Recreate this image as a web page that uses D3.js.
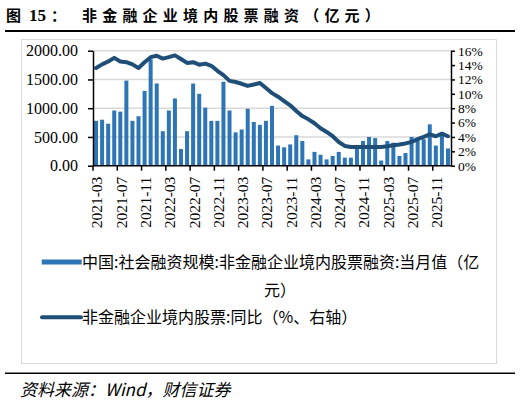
<!DOCTYPE html>
<html>
<head>
<meta charset="utf-8">
<script src="https://cdn.jsdelivr.net/npm/d3@7"></script>
<style>
  html, body { margin: 0; padding: 0; background: #fff; }
  svg { display: block; }
</style>
</head>
<body>
<svg id="chart" width="520" height="405"></svg>
<script>
// ---------------------------------------------------------------------------
// Data
// ---------------------------------------------------------------------------
const firstMonth = new Date(2021, 2, 1);   // 2021-03
const lastMonth = new Date(2026, 0, 1);    // 2026-01
const months = d3.timeMonth.range(firstMonth, d3.timeMonth.offset(lastMonth, 1))
  .map(d3.timeFormat("%Y-%m"));

// 当月值（亿元）
const monthlyValues = [
  780, 800, 730, 960, 940, 1480, 780, 860, 1300, 1850,
  1430, 600, 960, 1170, 290, 600, 1430, 1250, 1010, 780,
  780, 1460, 960, 580, 630, 990, 760, 710, 780, 1040,
  350, 320, 370, 530, 430, 110, 240, 190, 110, 170,
  240, 140, 140, 290, 430, 500, 480, 90, 430, 400,
  170, 220, 500, 440, 460, 720, 350, 580, 300
];

// 同比（%，右轴）
const yoyValues = [
  13.6, 14.1, 14.5, 15.0, 14.5, 14.4, 14.1, 13.6, 14.4, 15.1,
  15.3, 14.9, 15.1, 15.35, 14.85, 14.3, 14.4, 14.05, 14.2, 13.9,
  13.2, 12.6, 11.8, 11.65, 11.4, 11.1, 11.3, 11.5, 10.8, 10.1,
  9.6, 9.0, 8.4, 7.6, 6.9, 6.45, 5.9, 5.2, 4.7, 4.1,
  3.3, 2.75, 2.6, 2.6, 2.6, 2.6, 2.6, 2.6, 2.7, 2.85,
  2.95, 3.1, 3.3, 3.7, 4.0, 4.35, 4.1, 4.45, 4.1
];

const xTickLabels = [
  "2021-03", "2021-07", "2021-11", "2022-03", "2022-07", "2022-11",
  "2023-03", "2023-07", "2023-11", "2024-03", "2024-07", "2024-11",
  "2025-03", "2025-07", "2025-11"
];
const leftTicks = [0, 500, 1000, 1500, 2000];
const rightTicks = [0, 2, 4, 6, 8, 10, 12, 14, 16];

const titleParts = ["图", "15", "：", "非金融企业境内股票融资（亿元）"];
const barLegend = ["中国:社会融资规模:非金融企业境内股票融资:当月值（亿", "元）"];
const lineLegend = "非金融企业境内股票:同比（%、右轴）";
const sourceText = "资料来源：Wind，财信证券";

const rows = months.map((m, i) => ({ month: m, value: monthlyValues[i], yoy: yoyValues[i] }));

// ---------------------------------------------------------------------------
// Setup
// ---------------------------------------------------------------------------
const svg = d3.select("#chart");
const barColor = "#2E75B6";
const lineColor = "#1F4E79";
const serif = "'Liberation Serif', 'Times New Roman', serif";
const cjk = "'Noto Sans CJK SC', 'Noto Sans', sans-serif";

const plot = { left: 93, right: 451, top: 50.7, bottom: 165.7 };

svg.append("rect").attr("width", 520).attr("height", 405).attr("fill", "#fff");

// title: "图 15：" then the spaced-out heading
const title = svg.append("text")
  .attr("y", 20.5)
  .attr("font-family", cjk)
  .attr("font-weight", "bold")
  .attr("font-size", 15)
  .attr("fill", "#000");
title.append("tspan").attr("x", 6).text(titleParts[0]);
title.append("tspan").attr("x", 29).attr("font-family", serif).attr("font-size", 17).text(titleParts[1]);
title.append("tspan").attr("x", 51).text(titleParts[2]);
title.append("tspan").attr("x", 82).attr("letter-spacing", 5.2).text(titleParts[3]);

svg.append("line")
  .attr("x1", 5).attr("x2", 515).attr("y1", 31).attr("y2", 31)
  .attr("stroke", "#000").attr("stroke-width", 2);

// chart frame
svg.append("rect")
  .attr("x", 21.5).attr("y", 39.5).attr("width", 475).attr("height", 324)
  .attr("fill", "#fff").attr("stroke", "#d9d9d9").attr("stroke-width", 1);

// ---------------------------------------------------------------------------
// Scales
// ---------------------------------------------------------------------------
const x = d3.scaleBand()
  .domain(months)
  .range([plot.left, plot.right])
  .paddingInner(0.34)
  .paddingOuter(0.17);

const yLeft = d3.scaleLinear().domain([0, 2000]).range([plot.bottom, plot.top]);
const yRight = d3.scaleLinear().domain([0, 16]).range([plot.bottom, plot.top]);

// gridlines
svg.append("g")
  .selectAll("line")
  .data(leftTicks.filter(d => d > 0))
  .join("line")
  .attr("x1", plot.left).attr("x2", plot.right)
  .attr("y1", d => yLeft(d)).attr("y2", d => yLeft(d))
  .attr("stroke", "#d9d9d9").attr("stroke-width", 1.5);

// bars
svg.append("g")
  .selectAll("rect")
  .data(rows)
  .join("rect")
  .attr("x", d => x(d.month))
  .attr("width", x.bandwidth())
  .attr("y", d => yLeft(d.value))
  .attr("height", d => yLeft(0) - yLeft(d.value))
  .attr("fill", barColor);

// yoy line
const line = d3.line()
  .x(d => x(d.month) + x.bandwidth() / 2)
  .y(d => yRight(d.yoy));

svg.append("path")
  .datum(rows)
  .attr("d", line)
  .attr("fill", "none")
  .attr("stroke", lineColor)
  .attr("stroke-width", 4)
  .attr("stroke-linejoin", "round")
  .attr("stroke-linecap", "round");

// ---------------------------------------------------------------------------
// Axes
// ---------------------------------------------------------------------------
const leftAxis = svg.append("g")
  .attr("transform", `translate(${plot.left},0)`)
  .call(d3.axisLeft(yLeft)
    .tickValues(leftTicks)
    .tickFormat(d3.format(".2f"))
    .tickSize(5)
    .tickSizeOuter(0)
    .tickPadding(10));

const rightAxis = svg.append("g")
  .attr("transform", `translate(${plot.right},0)`)
  .call(d3.axisRight(yRight)
    .tickValues(rightTicks)
    .tickFormat(d => d + "%")
    .tickSize(4)
    .tickSizeOuter(0)
    .tickPadding(3));

[leftAxis, rightAxis].forEach(g => {
  g.select(".domain").attr("stroke", "#000").attr("stroke-width", 1.5);
  g.selectAll(".tick line").attr("stroke", "#000").attr("stroke-width", 1.5);
  g.selectAll(".tick text")
    .attr("font-family", serif)
    .attr("font-size", 16)
    .attr("fill", "#000");
});
// right labels sit only 14px apart, keep them a touch smaller
rightAxis.selectAll(".tick text").attr("font-size", 13.5);

// bottom axis: ticks on category boundaries every 4 months
const xAxis = svg.append("g");
xAxis.append("line")
  .attr("x1", plot.left).attr("x2", plot.right)
  .attr("y1", plot.bottom).attr("y2", plot.bottom)
  .attr("stroke", "#000").attr("stroke-width", 1.5);

const tickX = m => x(m) - x.step() * x.paddingInner() / 2;

xAxis.selectAll(".xtick")
  .data(xTickLabels)
  .join("line")
  .attr("class", "xtick")
  .attr("x1", tickX).attr("x2", tickX)
  .attr("y1", plot.bottom).attr("y2", plot.bottom + 5)
  .attr("stroke", "#000").attr("stroke-width", 1.5);

xAxis.selectAll(".xlabel")
  .data(xTickLabels)
  .join("text")
  .attr("class", "xlabel")
  .attr("transform", d => `translate(${tickX(d) + 4},${plot.bottom + 11}) rotate(-90)`)
  .attr("text-anchor", "end")
  .attr("dy", "0.35em")
  .attr("font-family", serif)
  .attr("font-size", 15.5)
  .attr("fill", "#000")
  .text(d => d);

// ---------------------------------------------------------------------------
// Legend
// ---------------------------------------------------------------------------
const legend = svg.append("g");

legend.append("rect")
  .attr("x", 41.7).attr("y", 259.5).attr("width", 40).attr("height", 5)
  .attr("fill", barColor);

legend.append("text")
  .attr("x", 82).attr("y", 262).attr("dy", "0.35em")
  .attr("font-family", cjk).attr("font-size", 16).attr("fill", "#000")
  .text(barLegend[0]);

legend.append("text")
  .attr("x", 280).attr("y", 290).attr("dy", "0.35em")
  .attr("text-anchor", "middle")
  .attr("font-family", cjk).attr("font-size", 16).attr("fill", "#000")
  .text(barLegend[1]);

legend.append("line")
  .attr("x1", 42).attr("x2", 81).attr("y1", 317.3).attr("y2", 317.3)
  .attr("stroke", lineColor).attr("stroke-width", 4)
  .attr("stroke-linecap", "round");

legend.append("text")
  .attr("x", 82).attr("y", 317.3).attr("dy", "0.35em")
  .attr("font-family", cjk).attr("font-size", 16).attr("fill", "#000")
  .text(lineLegend);

// ---------------------------------------------------------------------------
// Source
// ---------------------------------------------------------------------------
svg.append("line")
  .attr("x1", 5).attr("x2", 515).attr("y1", 373.3).attr("y2", 373.3)
  .attr("stroke", "#000").attr("stroke-width", 1.5);

svg.append("text")
  .attr("x", 20).attr("y", 396)
  .attr("font-family", cjk)
  .attr("font-style", "italic")
  .attr("font-size", 17)
  .attr("fill", "#000")
  .text(sourceText);
</script>
</body>
</html>
